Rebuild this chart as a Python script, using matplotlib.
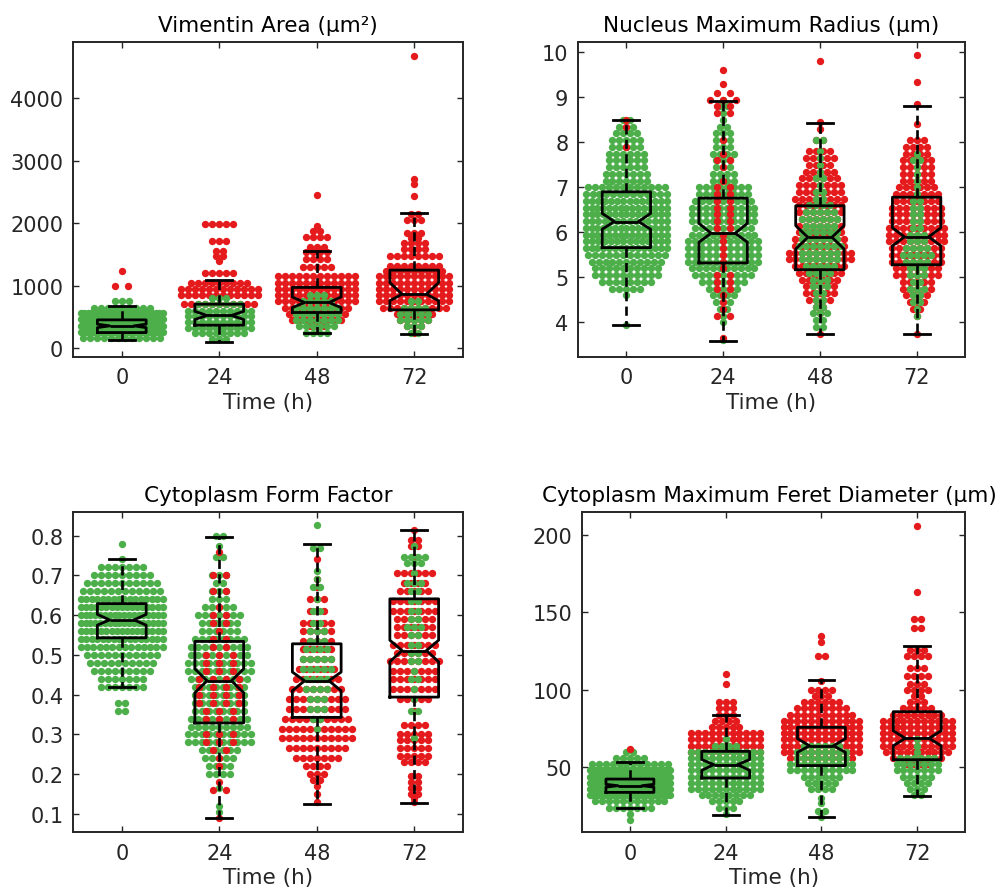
import matplotlib
matplotlib.use("Agg")
import matplotlib.pyplot as plt

plt.rcParams['font.family'] = ['DejaVu Sans']

GREEN = '#4daf4a'
RED = '#e41a1c'
INK = '#262626'

times = ['0', '24', '48', '72']

# swarm rows: (value, number of dots in that row)
# --- Vimentin Area
vim_0_g = [(160, 12), (260, 40), (360, 50), (460, 40), (560, 25), (650, 9), (750, 3)]
vim_0_r = [(1000, 2), (1240, 1)]
vim_24_g = [(150, 3), (240, 8), (330, 10), (420, 10), (510, 10), (600, 10), (700, 7), (800, 3)]
vim_24_r = [(700, 11), (850, 12), (950, 12), (1050, 9), (1200, 5), (1400, 1), (1480, 2),
            (1560, 2), (1720, 3), (1980, 5)]
vim_48_g = [(850, 3), (750, 5), (650, 7), (550, 7), (450, 7), (350, 6), (250, 4)]
vim_48_r = [(2450, 1), (1960, 1), (1880, 2), (1780, 4), (1620, 3), (1540, 4), (1420, 4),
            (1300, 5), (1150, 12), (1050, 12), (950, 12), (850, 12), (750, 12), (650, 10),
            (550, 9), (450, 8), (350, 3)]
vim_72_g = [(750, 2), (650, 4), (550, 5), (450, 5), (350, 3), (250, 2)]
vim_72_r = [(4670, 1), (2700, 1), (2620, 1), (2430, 1), (2150, 2), (2050, 3), (1850, 3),
            (1760, 2), (1680, 4), (1580, 4), (1480, 8), (1320, 8), (1240, 9), (1150, 11),
            (1050, 11), (950, 11), (850, 11), (750, 11), (650, 10), (550, 6), (450, 5),
            (350, 3), (250, 1)]

# --- Nucleus Maximum Radius
nuc_0_g = [(8.5, 2), (8.35, 3), (8.2, 4), (8.05, 5), (7.9, 5), (7.75, 6), (7.6, 6), (7.45, 6),
           (7.3, 7), (7.15, 7), (7.0, 12), (6.85, 13), (6.7, 14), (6.55, 15), (6.4, 15),
           (6.25, 14), (6.1, 15), (5.95, 15), (5.8, 14), (5.65, 15), (5.5, 12), (5.35, 11),
           (5.2, 10), (5.05, 10), (4.9, 8), (4.75, 5), (4.6, 1), (3.95, 1)]
nuc_0_r = [(8.5, 1), (8.35, 1), (7.9, 1)]
nuc_24_g = [(8.95, 1), (8.8, 2), (8.65, 1), (8.5, 1), (8.35, 2), (8.2, 3), (8.05, 3), (7.9, 3),
            (7.75, 4), (7.6, 3), (7.45, 3), (7.3, 4), (7.15, 4), (7.0, 8), (6.85, 8), (6.7, 9),
            (6.55, 10), (6.4, 10), (6.25, 10), (6.1, 9), (5.95, 10), (5.8, 11), (5.65, 11),
            (5.5, 11), (5.35, 11), (5.2, 10), (5.05, 9), (4.9, 7), (4.75, 5), (4.6, 4),
            (4.45, 3), (4.3, 2), (4.15, 1), (4.0, 1), (3.6, 1)]
nuc_24_r = [(9.6, 1), (9.3, 1), (9.1, 2), (8.95, 3), (8.8, 2), (8.65, 2), (8.05, 1), (7.75, 1),
            (7.6, 2), (7.45, 1), (7.15, 1), (7.0, 2), (6.85, 2), (6.7, 2), (6.55, 2), (6.4, 2),
            (6.25, 2), (6.1, 2), (5.95, 1), (5.8, 1), (5.65, 1), (5.5, 1), (5.35, 1), (5.2, 1),
            (5.05, 2), (4.9, 2), (4.75, 2), (4.6, 1), (4.45, 1), (4.3, 1), (4.15, 2), (3.65, 1)]
nuc_48_g = [(8.05, 2), (7.8, 1), (7.65, 1), (7.5, 1), (7.35, 1), (7.2, 2), (7.05, 1), (6.9, 2),
            (6.75, 2), (6.6, 4), (6.45, 5), (6.3, 6), (6.15, 5), (6.0, 6), (5.85, 6), (5.7, 7),
            (5.55, 6), (5.4, 6), (5.25, 5), (5.1, 4), (4.95, 3), (4.8, 3), (4.65, 2), (4.5, 2),
            (4.35, 2), (4.2, 3), (4.05, 2), (3.9, 2)]
nuc_48_r = [(9.8, 1), (8.45, 1), (8.3, 1), (8.05, 2), (7.8, 4), (7.65, 5), (7.5, 4), (7.35, 5),
            (7.2, 6), (7.05, 7), (6.9, 7), (6.75, 8), (6.6, 7), (6.45, 7), (6.3, 6), (6.15, 7),
            (6.0, 7), (5.85, 8), (5.7, 8), (5.55, 10), (5.4, 10), (5.25, 8), (5.1, 7), (4.95, 6),
            (4.8, 5), (4.65, 5), (4.5, 4), (4.35, 2), (4.2, 1), (3.75, 1)]
nuc_72_g = [(7.75, 1), (7.6, 2), (7.45, 1), (7.3, 1), (7.15, 1), (7.0, 1), (6.85, 1), (6.7, 2),
            (6.55, 2), (6.4, 2), (6.25, 2), (6.1, 2), (5.95, 3), (5.8, 3), (5.65, 4), (5.5, 5),
            (5.35, 4), (5.2, 3), (5.05, 3), (4.9, 2), (4.75, 3), (4.6, 2), (4.45, 2), (4.3, 1),
            (4.15, 1)]
nuc_72_r = [(9.95, 1), (9.35, 1), (8.85, 1), (8.4, 1), (8.05, 3), (7.9, 4), (7.75, 4), (7.6, 5),
            (7.45, 5), (7.3, 5), (7.15, 5), (7.0, 6), (6.85, 7), (6.7, 7), (6.55, 8), (6.4, 8),
            (6.25, 8), (6.1, 9), (5.95, 9), (5.8, 9), (5.65, 8), (5.5, 8), (5.35, 8), (5.2, 7),
            (5.05, 7), (4.9, 5), (4.75, 5), (4.6, 4), (4.45, 3), (4.3, 2), (4.15, 1), (3.75, 1)]

# --- Cytoplasm Form Factor
cff_0_g = [(0.78, 1), (0.74, 1), (0.72, 7), (0.70, 9), (0.68, 11), (0.66, 12), (0.64, 16),
           (0.62, 17), (0.60, 18), (0.58, 18), (0.56, 17), (0.54, 16), (0.52, 14), (0.50, 11),
           (0.48, 10), (0.46, 9), (0.44, 7), (0.42, 7), (0.38, 2), (0.36, 2)]
cff_0_r = []
cff_24_g = [(0.80, 2), (0.775, 1), (0.745, 2), (0.70, 3), (0.68, 2), (0.66, 3), (0.64, 3),
            (0.62, 5), (0.60, 7), (0.58, 6), (0.56, 6), (0.54, 8), (0.52, 9), (0.50, 9),
            (0.48, 10), (0.46, 10), (0.44, 9), (0.42, 8), (0.40, 8), (0.38, 8), (0.36, 8),
            (0.34, 9), (0.32, 9), (0.30, 10), (0.28, 10), (0.26, 6), (0.24, 5), (0.22, 4),
            (0.20, 4), (0.165, 1), (0.12, 1), (0.105, 1)]
cff_24_r = [(0.76, 1), (0.70, 2), (0.66, 2), (0.62, 1), (0.60, 2), (0.58, 2), (0.56, 1),
            (0.54, 2), (0.52, 2), (0.50, 3), (0.48, 3), (0.46, 3), (0.44, 4), (0.42, 4),
            (0.40, 4), (0.38, 4), (0.36, 3), (0.34, 3), (0.30, 3), (0.28, 3), (0.26, 2),
            (0.24, 1), (0.22, 1), (0.18, 1), (0.16, 2), (0.09, 1)]
cff_48_g = [(0.827, 1), (0.77, 2), (0.71, 1), (0.69, 1), (0.67, 2), (0.64, 1), (0.61, 2),
            (0.58, 2), (0.56, 3), (0.535, 3), (0.515, 4), (0.49, 5), (0.465, 5), (0.44, 4),
            (0.415, 4), (0.39, 3), (0.365, 3), (0.34, 2), (0.315, 1)]
cff_48_r = [(0.74, 1), (0.69, 1), (0.67, 1), (0.64, 3), (0.61, 3), (0.58, 5), (0.56, 5),
            (0.535, 5), (0.515, 5), (0.49, 5), (0.465, 6), (0.44, 7), (0.415, 8), (0.39, 9),
            (0.365, 9), (0.34, 10), (0.315, 11), (0.29, 11), (0.265, 9), (0.24, 7), (0.22, 4),
            (0.20, 3), (0.185, 2), (0.17, 1), (0.15, 1), (0.13, 1)]
cff_72_g = [(0.775, 1), (0.745, 4), (0.73, 3), (0.705, 1), (0.68, 3), (0.66, 2), (0.635, 2),
            (0.61, 2), (0.59, 2), (0.57, 3), (0.55, 2), (0.525, 2), (0.505, 2), (0.485, 2),
            (0.46, 1), (0.44, 2), (0.415, 1), (0.39, 1), (0.36, 2), (0.29, 1)]
cff_72_r = [(0.815, 1), (0.79, 2), (0.775, 2), (0.745, 1), (0.705, 6), (0.68, 4), (0.66, 5),
            (0.635, 7), (0.61, 7), (0.59, 6), (0.57, 6), (0.55, 6), (0.525, 7), (0.505, 6),
            (0.485, 8), (0.46, 7), (0.44, 7), (0.415, 7), (0.39, 5), (0.36, 1), (0.325, 4),
            (0.30, 5), (0.285, 5), (0.265, 5), (0.245, 5), (0.23, 4), (0.195, 2), (0.18, 2),
            (0.165, 2), (0.15, 2), (0.14, 1), (0.13, 1)]

# --- Cytoplasm Maximum Feret Diameter
cfd_0_g = [(60, 2), (56, 5), (52, 12), (48, 30), (44, 35), (40, 40), (36, 40), (32, 30),
           (28, 11), (24, 7), (20, 1), (16, 1)]
cfd_0_r = [(62, 1)]
cfd_24_g = [(68, 1), (64, 4), (60, 11), (56, 11), (52, 11), (48, 11), (44, 11), (40, 11),
            (36, 11), (32, 8), (28, 5), (24, 3), (20, 1)]
cfd_24_r = [(110, 1), (104, 1), (92, 3), (88, 3), (84, 3), (80, 4), (76, 5), (72, 11), (68, 11),
            (64, 11), (60, 11)]
cfd_48_g = [(64, 6), (60, 8), (56, 8), (52, 10), (48, 10), (44, 6), (40, 5), (36, 4), (30, 1),
            (27, 1), (22, 2), (18, 1)]
cfd_48_r = [(135, 1), (131, 1), (122, 2), (106, 1), (100, 4), (96, 3), (92, 6), (88, 8),
            (84, 10), (80, 12), (76, 12), (72, 12), (68, 12), (64, 12), (60, 12), (56, 10)]
cfd_72_g = [(68, 1), (64, 1), (60, 1), (56, 6), (52, 7), (48, 7), (44, 5), (40, 4), (36, 3),
            (32, 2)]
cfd_72_r = [(206, 1), (163, 1), (146, 2), (140, 2), (126, 3), (122, 4), (114, 3), (109, 4),
            (104, 3), (100, 4), (96, 2), (92, 3), (88, 5), (84, 8), (80, 11), (76, 11), (72, 11),
            (68, 11), (64, 11), (60, 10), (56, 8), (52, 4)]

# box statistics (one value per time point)
vim_med = [358, 525, 732, 865]
vim_q1 = [251, 369, 572, 614]
vim_q3 = [454, 705, 973, 1250]
vim_lo = [128, 107, 251, 224]
vim_hi = [668, 1090, 1550, 2158]
vim_cilo = [330, 460, 650, 760]
vim_cihi = [385, 590, 820, 1050]

nuc_med = [6.24, 5.98, 5.89, 5.90]
nuc_q1 = [5.66, 5.32, 5.17, 5.28]
nuc_q3 = [6.90, 6.76, 6.59, 6.78]
nuc_lo = [3.95, 3.58, 3.74, 3.74]
nuc_hi = [8.50, 8.91, 8.43, 8.81]
nuc_cilo = [6.07, 5.78, 5.63, 5.70]
nuc_cihi = [6.42, 6.20, 6.15, 6.10]

cff_med = [0.588, 0.435, 0.435, 0.511]
cff_q1 = [0.543, 0.329, 0.343, 0.394]
cff_q3 = [0.629, 0.534, 0.528, 0.641]
cff_lo = [0.419, 0.090, 0.125, 0.129]
cff_hi = [0.740, 0.797, 0.779, 0.814]
cff_cilo = [0.575, 0.405, 0.410, 0.483]
cff_cihi = [0.602, 0.465, 0.457, 0.537]

cfd_med = [38.1, 51.7, 63.9, 68.7]
cfd_q1 = [33.8, 43.1, 51.1, 54.9]
cfd_q3 = [42.4, 60.3, 75.8, 85.9]
cfd_lo = [23.7, 19.4, 18.1, 31.7]
cfd_hi = [53.2, 83.8, 106.2, 128.3]
cfd_cilo = [37.2, 48.0, 59.7, 63.9]
cfd_cihi = [39.0, 55.0, 68.5, 73.6]

DOT_SIZE = 28      # scatter size, pt^2
DOT_STEP = 0.072   # spacing of dots in a row, x units
HALF_W = 0.42      # max half width of a swarm row


def swarm(ax, pos, rows, color, spread=1.0):
    xs, ys = [], []
    base = DOT_STEP * spread
    for val, n in rows:
        step = base if n < 2 else min(base, 2 * HALF_W / (n - 1))
        for i in range(n):
            xs.append(pos + (i - (n - 1) / 2) * step)
            ys.append(val)
    ax.scatter(xs, ys, s=DOT_SIZE, color=color, linewidths=0, zorder=2)


panels = [
    dict(title='Vimentin Area (µm²)', rect=[0.0728, 0.600, 0.3888, 0.352],
         green=[vim_0_g, vim_24_g, vim_48_g, vim_72_g],
         red=[vim_0_r, vim_24_r, vim_48_r, vim_72_r],
         front=['r', 'g', 'g', 'g'],
         stats=(vim_med, vim_q1, vim_q3, vim_lo, vim_hi, vim_cilo, vim_cihi),
         ylim=(-140, 4900), yticks=[0, 1000, 2000, 3000, 4000], fmt='{:g}'),
    dict(title='Nucleus Maximum Radius (µm)', rect=[0.5763, 0.600, 0.3858, 0.352],
         green=[nuc_0_g, nuc_24_g, nuc_48_g, nuc_72_g],
         red=[nuc_0_r, nuc_24_r, nuc_48_r, nuc_72_r],
         front=['r', 'r', 'g', 'g'],
         stats=(nuc_med, nuc_q1, nuc_q3, nuc_lo, nuc_hi, nuc_cilo, nuc_cihi),
         ylim=(3.23, 10.23), yticks=[4, 5, 6, 7, 8, 9, 10], fmt='{:g}'),
    dict(title='Cytoplasm Form Factor', rect=[0.0728, 0.0689, 0.3888, 0.3582],
         green=[cff_0_g, cff_24_g, cff_48_g, cff_72_g],
         red=[cff_0_r, cff_24_r, cff_48_r, cff_72_r],
         front=['g', 'r', 'g', 'g'],
         stats=(cff_med, cff_q1, cff_q3, cff_lo, cff_hi, cff_cilo, cff_cihi),
         ylim=(0.054, 0.86), yticks=[0.1, 0.2, 0.3, 0.4, 0.5, 0.6, 0.7, 0.8], fmt='{:.1f}'),
    dict(title='Cytoplasm Maximum Feret Diameter (µm)', rect=[0.5803, 0.0689, 0.3819, 0.3582],
         green=[cfd_0_g, cfd_24_g, cfd_48_g, cfd_72_g],
         red=[cfd_0_r, cfd_24_r, cfd_48_r, cfd_72_r],
         front=['r', 'g', 'g', 'g'],
         stats=(cfd_med, cfd_q1, cfd_q3, cfd_lo, cfd_hi, cfd_cilo, cfd_cihi),
         ylim=(8, 215), yticks=[50, 100, 150, 200], fmt='{:g}'),
]

fig = plt.figure(figsize=(10.03, 8.95), dpi=100)

for p in panels:
    ax = fig.add_axes(p['rect'])
    # dots: the colour in front is drawn last; a red minority in front is spread out
    for i in range(4):
        if p['front'][i] == 'g':
            swarm(ax, i + 1, p['red'][i], RED)
            swarm(ax, i + 1, p['green'][i], GREEN)
        else:
            swarm(ax, i + 1, p['green'][i], GREEN)
            swarm(ax, i + 1, p['red'][i], RED, spread=1.9)

    med, q1, q3, lo, hi, cilo, cihi = p['stats']
    bstats = []
    for i in range(4):
        bstats.append(dict(med=med[i], q1=q1[i], q3=q3[i], whislo=lo[i], whishi=hi[i],
                           cilo=cilo[i], cihi=cihi[i], fliers=[]))
    ax.bxp(bstats, positions=[1, 2, 3, 4], widths=0.5, capwidths=0.27,
           shownotches=True, showfliers=False, manage_ticks=False,
           boxprops=dict(color='k', lw=2.0, zorder=3),
           medianprops=dict(color='k', lw=2.0, zorder=3),
           whiskerprops=dict(color='k', lw=1.9, linestyle=(0, (3.5, 2)), zorder=3),
           capprops=dict(color='k', lw=2.0, zorder=3))

    ax.set_xlim(0.5, 4.5)
    ax.set_xticks([1, 2, 3, 4])
    ax.set_xticklabels(times)
    ax.set_ylim(*p['ylim'])
    ax.set_yticks(p['yticks'])
    ax.set_yticklabels([p['fmt'].format(v) for v in p['yticks']])
    ax.tick_params(direction='in', top=True, right=True, length=4, width=1,
                   colors=INK, labelsize=15)
    ax.tick_params(axis='x', pad=7.5)
    ax.tick_params(axis='y', pad=7)
    for s in ax.spines.values():
        s.set_color(INK)
        s.set_linewidth(1.4)
    ax.set_xlabel('Time (h)', fontsize=15.5, color=INK, labelpad=3)
    ax.set_title(p['title'], fontsize=15.5, pad=8,
                 x=0.49 if 'Feret' in p['title'] else 0.5)

fig.savefig('out.png', dpi=100)
